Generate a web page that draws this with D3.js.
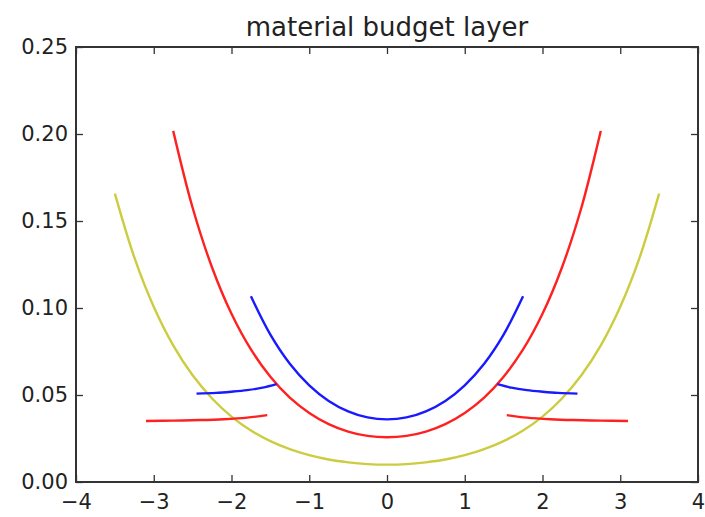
<!DOCTYPE html>
<html><head><meta charset="utf-8">
<script src="https://cdn.jsdelivr.net/npm/d3@7/dist/d3.min.js"></script>
<style>body{margin:0;background:#fff}svg{display:block}</style>
</head><body>
<svg id="chart" width="705" height="517"></svg>
<script>
// ---- data ----
const xTicks = [-4, -3, -2, -1, 0, 1, 2, 3, 4];
const yTicks = [0.00, 0.05, 0.10, 0.15, 0.20, 0.25];
const title = "material budget layer";

// blue barrel layer
const blueBarrelX = [-1.75,-1.5,-1.25,-1.0,-0.75,-0.5,-0.25,0,0.25,0.5,0.75,1.0,1.25,1.5,1.75];
const blueBarrelY = [0.1067,0.0847,0.0680,0.0556,0.0466,0.0406,0.0371,0.0360,0.0371,0.0406,0.0466,0.0556,0.0680,0.0847,0.1067];
// red barrel layer
const redBarrelX = [-2.75,-2.5,-2.25,-2.0,-1.75,-1.5,-1.25,-1.0,-0.75,-0.5,-0.25,0,0.25,0.5,0.75,1.0,1.25,1.5,1.75,2.0,2.25,2.5,2.75];
const redBarrelY = [0.2018,0.1576,0.1233,0.0967,0.0762,0.0605,0.0485,0.0397,0.0333,0.0290,0.0265,0.0257,0.0265,0.0290,0.0333,0.0397,0.0485,0.0605,0.0762,0.0967,0.1233,0.1576,0.2018];
// yellow barrel layer
const yellowX = [-3.5,-3.25,-3.0,-2.75,-2.5,-2.25,-2.0,-1.75,-1.5,-1.25,-1.0,-0.75,-0.5,-0.25,0,0.25,0.5,0.75,1.0,1.25,1.5,1.75,2.0,2.25,2.5,2.75,3.0,3.25,3.5];
const yellowY = [0.1657,0.1291,0.1007,0.0785,0.0613,0.0480,0.0376,0.0296,0.0235,0.0189,0.0154,0.0129,0.0113,0.0103,0.0100,0.0103,0.0113,0.0129,0.0154,0.0189,0.0235,0.0296,0.0376,0.0480,0.0613,0.0785,0.1007,0.1291,0.1657];
// blue endcaps
const blueCapLeftX  = [-2.45,-2.2,-2.0,-1.8,-1.6,-1.42];
const blueCapLeftY  = [0.0508,0.0512,0.0519,0.0528,0.0542,0.0562];
const blueCapRightX = [1.42,1.6,1.8,2.0,2.2,2.45];
const blueCapRightY = [0.0562,0.0542,0.0528,0.0519,0.0512,0.0508];
// red endcaps
const redCapLeftX  = [-3.1,-2.75,-2.4,-2.1,-1.8,-1.54];
const redCapLeftY  = [0.0351,0.0353,0.0356,0.0361,0.0370,0.0384];
const redCapRightX = [1.54,1.8,2.1,2.4,2.75,3.1];
const redCapRightY = [0.0384,0.0370,0.0361,0.0356,0.0353,0.0351];

// ---- chart ----
const svg = d3.select("#chart");
const L = 76, R = 698, T = 47, B = 482;
const x = d3.scaleLinear().domain([-4, 4]).range([L, R]);
const y = d3.scaleLinear().domain([0, 0.25]).range([B, T]);
const font = "'DejaVu Sans', sans-serif";

const series = [
  {xs: yellowX, ys: yellowY, color: "#cccc40"},
  {xs: redBarrelX, ys: redBarrelY, color: "#ff2020"},
  {xs: blueBarrelX, ys: blueBarrelY, color: "#1a1aff"},
  {xs: blueCapLeftX, ys: blueCapLeftY, color: "#1a1aff"},
  {xs: blueCapRightX, ys: blueCapRightY, color: "#1a1aff"},
  {xs: redCapLeftX, ys: redCapLeftY, color: "#ff2020"},
  {xs: redCapRightX, ys: redCapRightY, color: "#ff2020"}
];
const line = d3.line().x(d => x(d[0])).y(d => y(d[1])).curve(d3.curveCatmullRom.alpha(0.5));
const plot = svg.append("g");
series.forEach(s => {
  plot.append("path")
    .datum(s.xs.map((v, i) => [v, s.ys[i]]))
    .attr("d", line)
    .attr("fill", "none")
    .attr("stroke", s.color)
    .attr("stroke-width", 2.4)
    .attr("stroke-linecap", "butt");
});

const fmtX = d => (d < 0 ? "\u2212" + Math.abs(d) : String(d));
const tl = 7;
// bottom / top axes
const ax = svg.append("g").attr("transform", `translate(0,${B})`)
  .call(d3.axisBottom(x).tickValues(xTicks).tickFormat(fmtX).tickSizeInner(-tl).tickSizeOuter(0).tickPadding(12));
const axT = svg.append("g").attr("transform", `translate(0,${T})`)
  .call(d3.axisTop(x).tickValues(xTicks).tickFormat("").tickSizeInner(-tl).tickSizeOuter(0));
const ay = svg.append("g").attr("transform", `translate(${L},0)`)
  .call(d3.axisLeft(y).tickValues(yTicks).tickFormat(d3.format(".2f")).tickSizeInner(-tl).tickSizeOuter(0).tickPadding(8));
const ayR = svg.append("g").attr("transform", `translate(${R},0)`)
  .call(d3.axisRight(y).tickValues(yTicks).tickFormat("").tickSizeInner(-tl).tickSizeOuter(0));
[ax, axT, ay, ayR].forEach(g => {
  g.select(".domain").remove();
  g.selectAll(".tick line").attr("stroke", "#333").attr("stroke-width", 1.3);
  g.selectAll("text").attr("font-family", font).attr("font-size", 21).attr("fill", "#222");
});
svg.append("rect").attr("x", L).attr("y", T).attr("width", R - L).attr("height", B - T)
  .attr("fill", "none").attr("stroke", "#333").attr("stroke-width", 2);

svg.append("text").attr("x", (L + R) / 2).attr("y", T - 11)
  .attr("text-anchor", "middle").attr("font-family", font).attr("font-size", 26).attr("fill", "#222")
  .text(title);
</script>
</body></html>
